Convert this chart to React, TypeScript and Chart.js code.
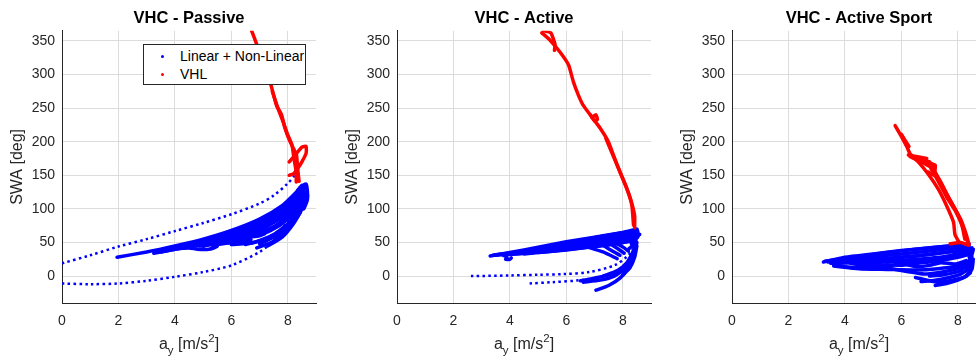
import React, { useEffect, useRef } from "react";
import { Chart, registerables } from "chart.js";

Chart.register(...registerables);

type Pt = [number, number];

// ---------- axes / labels ----------
const xTicks = [0, 2, 4, 6, 8];
const yTicks = [0, 50, 100, 150, 200, 250, 300, 350];
const xMin = 0;
const xMax = 9;
const yMin = -40;
const yMax = 365;
const titles = ["VHC - Passive", "VHC - Active", "VHC - Active Sport"];
const seriesNames = ["Linear + Non-Linear", "VHL"];
const yLabel = "SWA [deg]";

// ---------- VHC - Passive ----------
const passiveBlue1: Pt[] = [[1.95, 28], [3, 36], [4, 45], [5, 55], [6, 68], [7, 85], [7.8, 105], [8.3, 125], [8.5, 135]];
const passiveBlue2: Pt[] = [[3.25, 34], [4, 40], [5, 48], [6, 60], [7, 75], [7.8, 95], [8.4, 118], [8.6, 130]];
const passiveBlue3: Pt[] = [[3.5, 36], [4.5, 44], [5.5, 53], [6.5, 66], [7.5, 86], [8.2, 105], [8.65, 125]];
const passiveBlue4: Pt[] = [[3.8, 40], [4.5, 42], [4.8, 40], [5.2, 40], [5.5, 44], [5.2, 47], [4.9, 45], [5.5, 48], [6.0, 50], [6.4, 50], [6.7, 54], [6.4, 57], [6.1, 55], [6.6, 58], [7.0, 60], [7.2, 64], [6.9, 67], [6.8, 63], [7.3, 66], [7.8, 78], [8.3, 100], [8.6, 120]];
const passiveBlue5: Pt[] = [[4.2, 43], [5, 46], [6, 54], [7, 68], [7.8, 88], [8.4, 110]];
const passiveBlue6: Pt[] = [[6.0, 47], [6.8, 50], [7.5, 62], [8.0, 78], [8.4, 100]];
const passiveBlue7: Pt[] = [[6.9, 42], [7.5, 52], [8.0, 70], [8.3, 90], [8.5, 105]];
const passiveBlue8: Pt[] = [[7.3, 45], [7.8, 58], [8.2, 78], [8.5, 100], [8.7, 120]];
const passiveBlue9: Pt[] = [[8.3, 95], [8.5, 110], [8.4, 130], [8.65, 137], [8.7, 115], [8.55, 100], [8.35, 128]];
const passiveBlue10: Pt[] = [[3.6, 38], [4.5, 46], [5.5, 56], [6.5, 70], [7.5, 90], [8.2, 112], [8.6, 132]];
const passiveBlue11: Pt[] = [[4.0, 42], [5, 50], [6, 62], [7, 80], [7.8, 100], [8.4, 122]];
const passiveBlue12: Pt[] = [[4.5, 47], [5.5, 58], [6.5, 74], [7.5, 95], [8.3, 120], [8.6, 136]];
const passiveBlue13: Pt[] = [[5, 44], [6, 57], [7, 72], [8, 92], [8.5, 112]];
const passiveBlue14: Pt[] = [[5.5, 47], [6.3, 52], [7, 64], [7.6, 76], [8.2, 98]];
const passiveBlue15: Pt[] = [[6.5, 47], [7.2, 55], [7.8, 68], [8.3, 88], [8.6, 110]];
const passiveBlue16: Pt[] = [[7.0, 48], [7.6, 60], [8.1, 75], [8.45, 95]];
const passiveBlueDots1: Pt[] = [[0, 19], [1, 31], [2, 44], [3, 55], [4, 67], [5, 79], [6, 92], [7, 108], [7.5, 120], [8, 138], [8.25, 150]];
const passiveBlueDots2: Pt[] = [[0, -11], [1, -12], [2, -11], [3, -7], [4, -1], [5, 6], [6, 16], [7, 36], [7.5, 53], [8, 83], [8.3, 108], [8.5, 128]];
const passiveRed1: Pt[] = [[6.72, 365], [6.89, 346], [7.1, 320], [7.3, 298], [7.42, 282], [7.6, 254], [7.78, 240], [7.9, 220], [8.08, 200], [8.2, 190], [8.31, 180], [8.35, 160], [8.4, 141]];
const passiveRed2: Pt[] = [[7.45, 275], [7.65, 250], [7.85, 228], [8.0, 210], [8.15, 195], [8.22, 175], [8.3, 155], [8.3, 140]];
const passiveRed3: Pt[] = [[8.05, 170], [8.3, 182], [8.5, 192], [8.65, 193], [8.65, 183], [8.5, 170], [8.35, 160], [8.2, 152], [8.05, 150]];

// ---------- VHC - Active ----------
const activeBlue1: Pt[] = [[3.3, 30], [4, 35], [5, 43], [6, 51], [7, 58], [8, 65], [8.4, 69]];
const activeBlue2: Pt[] = [[3.5, 31], [4.5, 36], [5.5, 42], [6.5, 49], [7.5, 56], [8.3, 62], [8.5, 66]];
const activeBlue3: Pt[] = [[3.6, 32], [4.5, 34], [5.5, 39], [6.5, 45], [7.5, 52], [8.3, 58], [8.5, 62]];
const activeBlue4: Pt[] = [[4.0, 32], [5, 36], [6, 41], [6.7, 45], [7.5, 49], [8.2, 53], [8.5, 58]];
const activeBlue5: Pt[] = [[3.75, 31], [3.9, 28], [3.85, 25], [4.0, 25], [4.05, 27]];
const activeBlue6: Pt[] = [[6.7, 44], [7.3, 36], [7.8, 26]];
const activeBlue7: Pt[] = [[7.3, 46], [7.6, 38], [7.9, 31]];
const activeBlue8: Pt[] = [[7.6, 47], [7.85, 40], [8.05, 34]];
const activeBlue9: Pt[] = [[7.8, 48], [8.05, 42], [8.2, 37]];
const activeBlue10: Pt[] = [[8.2, 40], [8.45, 50], [8.5, 70], [8.55, 60], [8.3, 48], [8.4, 65], [8.6, 62]];
const activeBlue11: Pt[] = [[7.05, -21], [7.5, -14], [7.9, -3], [8.2, 12], [8.4, 32], [8.5, 50]];
const activeBlue12: Pt[] = [[6.6, -9], [7.2, -6], [7.7, 0], [8.1, 12], [8.35, 30], [8.45, 45]];
const activeBlue13: Pt[] = [[6.5, -7], [7.0, -3], [7.6, 3], [8.0, 12], [8.3, 28], [8.42, 45]];
const activeBlue14: Pt[] = [[8.0, 2], [8.25, 12], [8.42, 28], [8.5, 45]];
const activeBlue15: Pt[] = [[7.3, 0], [7.8, 8], [8.15, 20], [8.35, 35]];
const activeBlue16: Pt[] = [[3.4, 31], [4.5, 37], [5.5, 45], [6.5, 53], [7.5, 61], [8.4, 67]];
const activeBlue17: Pt[] = [[3.8, 32], [5, 39], [6, 47], [7, 54], [8, 61], [8.5, 64]];
const activeBlue18: Pt[] = [[4.5, 33], [5.5, 37], [6.5, 42], [7.5, 47], [8.3, 52]];
const activeBlue19: Pt[] = [[5, 35], [6, 39], [7, 44], [7.8, 48], [8.4, 54]];
const activeBlueDots1: Pt[] = [[2.62, 0], [4, 1], [5, 2], [5.9, 3], [6.8, 6], [7.7, 16], [8.15, 29], [8.35, 40]];
const activeBlueDots2: Pt[] = [[4.7, -11], [5.5, -9], [6.5, -6], [7.4, 1], [8.0, 14], [8.3, 30]];
const activeRed1: Pt[] = [[5.13, 362], [5.4, 352], [5.78, 333], [6.08, 314], [6.25, 289], [6.43, 269], [6.6, 254], [6.9, 237], [7.2, 220], [7.49, 200], [7.67, 180], [7.9, 155], [8.14, 131], [8.32, 106], [8.38, 76]];
const activeRed2: Pt[] = [[5.2, 365], [5.45, 362], [5.6, 345], [5.58, 336]];
const activeRed3: Pt[] = [[7.4, 205], [7.6, 185], [7.75, 170], [8.0, 145], [8.25, 118], [8.42, 90], [8.42, 72]];
const activeRed4: Pt[] = [[6.85, 240], [7.0, 231], [7.1, 233], [7.05, 240], [6.9, 236]];

// ---------- VHC - Active Sport ----------
const sportBlue1: Pt[] = [[3.24, 21], [4, 28], [5, 33], [6, 38], [7, 42], [8, 46], [8.4, 48]];
const sportBlue2: Pt[] = [[3.4, 21], [4.5, 27], [5.5, 31], [6.5, 35], [7.5, 40], [8.4, 44]];
const sportBlue3: Pt[] = [[3.6, 20], [4.5, 23], [5.5, 26], [6.5, 30], [7.5, 35], [8.45, 40]];
const sportBlue4: Pt[] = [[3.7, 17], [4, 14], [4.5, 13], [5, 15], [5.5, 17], [6, 16], [6.5, 19], [7, 21], [7.5, 24], [8, 28], [8.45, 33]];
const sportBlue5: Pt[] = [[4.2, 19], [4.8, 16], [5.2, 20], [5.8, 22], [6.2, 17], [6.6, 14], [7.0, 16], [7.4, 20], [7.9, 18], [8.3, 23]];
const sportBlue6: Pt[] = [[5.5, 12], [6.2, 7], [6.8, 3], [7.3, 5], [7.8, 9], [8.2, 14], [8.45, 25]];
const sportBlue7: Pt[] = [[6.7, -8], [7.2, -6], [7.7, -2], [8.1, 3], [8.4, 12], [8.5, 28]];
const sportBlue8: Pt[] = [[7.2, -14], [7.6, -11], [8.0, -6], [8.3, 0], [8.5, 10], [8.55, 25]];
const sportBlue9: Pt[] = [[4.0, 22], [5, 25], [6, 28], [7, 32], [8, 38], [8.5, 42]];
const sportBlue10: Pt[] = [[8.3, 0], [8.5, 15], [8.4, 30], [8.55, 40], [8.35, 10]];
const sportBlue11: Pt[] = [[3.3, 22], [4.5, 29], [5.5, 35], [6.5, 40], [7.5, 44], [8.4, 47]];
const sportBlue12: Pt[] = [[3.5, 19], [4.5, 20], [5.5, 22], [6.5, 25], [7.5, 29], [8.3, 36]];
const sportBlue13: Pt[] = [[3.6, 15], [4.5, 11], [5.5, 10], [6.5, 9], [7.3, 11], [8, 15], [8.4, 20]];
const sportBlue14: Pt[] = [[4.5, 17], [5, 14], [5.6, 15], [6, 20], [6.5, 23], [7.2, 25], [8, 32], [8.45, 38]];
const sportBlue15: Pt[] = [[7, 0], [7.5, 2], [8.1, 8], [8.4, 18]];
const sportBlue16: Pt[] = [[6.5, -2], [7.3, -9], [7.8, -6], [8.2, -2], [8.45, 5]];
const sportRed1: Pt[] = [[5.78, 224], [6.0, 208], [6.2, 192], [6.31, 182], [6.6, 170], [6.95, 152], [7.3, 130], [7.6, 105], [7.85, 80], [7.9, 62], [8.05, 50]];
const sportRed2: Pt[] = [[6.3, 178], [6.8, 168], [7.1, 160], [7.4, 140], [7.7, 115], [8.0, 92], [8.2, 70], [8.35, 50]];
const sportRed3: Pt[] = [[6.6, 174], [7.0, 170], [7.25, 150], [7.5, 130], [7.8, 108], [8.1, 85], [8.3, 62], [8.4, 47]];
const sportRed4: Pt[] = [[6.25, 180], [6.9, 175]];
const sportRed5: Pt[] = [[6.0, 211], [6.27, 193]];
const sportRed6: Pt[] = [[7.73, 48], [8.1, 50], [8.38, 46]];
const sportRed7: Pt[] = [[6.85, 170], [7.2, 165], [7.15, 150], [6.95, 155]];
const sportRed8: Pt[] = [[7.05, 160], [7.35, 138], [7.6, 118], [7.9, 98], [8.15, 75], [8.25, 55]];

const BLUE = "#0000ff";
const RED = "#ff0000";
const FONT = "'Liberation Sans', Arial, Helvetica, sans-serif";
const TEXT = "#262626";

interface PanelDef {
  title: string;
  solidBlue: Pt[][];
  dottedBlue: Pt[][];
  red: Pt[][];
  legend: boolean;
}

const panels: PanelDef[] = [
  {
    title: titles[0],
    solidBlue: [passiveBlue1, passiveBlue2, passiveBlue3, passiveBlue4, passiveBlue5, passiveBlue6, passiveBlue7, passiveBlue8, passiveBlue9, passiveBlue10, passiveBlue11, passiveBlue12, passiveBlue13, passiveBlue14, passiveBlue15, passiveBlue16],
    dottedBlue: [passiveBlueDots1, passiveBlueDots2],
    red: [passiveRed1, passiveRed2, passiveRed3],
    legend: true,
  },
  {
    title: titles[1],
    solidBlue: [activeBlue1, activeBlue2, activeBlue3, activeBlue4, activeBlue5, activeBlue6, activeBlue7, activeBlue8, activeBlue9, activeBlue10, activeBlue11, activeBlue12, activeBlue13, activeBlue14, activeBlue15, activeBlue16, activeBlue17, activeBlue18, activeBlue19],
    dottedBlue: [activeBlueDots1, activeBlueDots2],
    red: [activeRed1, activeRed2, activeRed3, activeRed4],
    legend: false,
  },
  {
    title: titles[2],
    solidBlue: [sportBlue1, sportBlue2, sportBlue3, sportBlue4, sportBlue5, sportBlue6, sportBlue7, sportBlue8, sportBlue9, sportBlue10, sportBlue11, sportBlue12, sportBlue13, sportBlue14, sportBlue15, sportBlue16],
    dottedBlue: [],
    red: [sportRed1, sportRed2, sportRed3, sportRed4, sportRed5, sportRed6, sportRed7, sportRed8],
    legend: false,
  },
];

const PANEL_W = 335;
const PANEL_H = 362;
const AREA_LEFT = 62;
const AREA_RIGHT_PAD = 19;
const XAXIS_H = 59;

function Panel({ def, left }: { def: PanelDef; left: number }) {
  const ref = useRef<HTMLCanvasElement>(null);
  useEffect(() => {
    if (!ref.current) return;
    const toXY = (t: Pt[]) => t.map(([x, y]) => ({ x, y }));
    const datasets: any[] = [
      ...def.red.map((t) => ({
        label: seriesNames[1],
        data: toXY(t),
        showLine: true,
        borderColor: RED,
        backgroundColor: RED,
        borderWidth: 3.5,
        borderJoinStyle: "round",
        borderCapStyle: "round",
        pointRadius: 0,
        tension: 0.15,
      })),
      ...def.solidBlue.map((t) => ({
        label: seriesNames[0],
        data: toXY(t),
        showLine: true,
        borderColor: BLUE,
        backgroundColor: BLUE,
        borderWidth: 3.5,
        borderJoinStyle: "round",
        borderCapStyle: "round",
        pointRadius: 0,
        tension: 0.2,
      })),
      ...def.dottedBlue.map((t) => ({
        label: seriesNames[0],
        data: toXY(t),
        showLine: true,
        borderColor: BLUE,
        backgroundColor: BLUE,
        borderWidth: 2.5,
        borderDash: [2.5, 3.3],
        borderCapStyle: "butt",
        pointRadius: 0,
        tension: 0.3,
      })),
    ];
    const chart = new Chart(ref.current, {
      type: "scatter",
      data: { datasets },
      options: {
        animation: false,
        responsive: false,
        events: [],
        layout: { padding: { left: 0, right: AREA_RIGHT_PAD, top: 0, bottom: 0 } },
        plugins: {
          legend: { display: false },
          tooltip: { enabled: false },
          title: {
            display: true,
            text: def.title,
            fullSize: false,
            color: "#000000",
            font: { family: FONT, size: 16.5, weight: "bold" },
            padding: { top: 8.4, bottom: 2.6 },
          },
        },
        scales: {
          x: {
            type: "linear",
            min: xMin,
            max: xMax,
            afterBuildTicks: (s: any) => {
              s.ticks = xTicks.map((v) => ({ value: v }));
            },
            afterFit: (s: any) => {
              s.height = XAXIS_H;
            },
            grid: { color: "#dcdcdc", lineWidth: 1, drawTicks: false },
            border: { display: true, color: TEXT, width: 1 },
            ticks: { color: TEXT, font: { family: FONT, size: 14 }, padding: 10, maxRotation: 0 },
          },
          y: {
            type: "linear",
            min: yMin,
            max: yMax,
            afterBuildTicks: (s: any) => {
              s.ticks = yTicks.map((v) => ({ value: v }));
            },
            afterFit: (s: any) => {
              s.width = AREA_LEFT;
            },
            grid: { color: "#dcdcdc", lineWidth: 1, drawTicks: false },
            border: { display: true, color: TEXT, width: 1 },
            ticks: { color: TEXT, font: { family: FONT, size: 14 }, padding: 7 },
            title: {
              display: true,
              text: yLabel,
              color: TEXT,
              font: { family: FONT, size: 16 },
              padding: { top: 8, bottom: 0 },
            },
          },
        },
      } as any,
    });
    return () => chart.destroy();
  }, [def]);

  const areaCenter = AREA_LEFT + (PANEL_W - AREA_RIGHT_PAD - AREA_LEFT) / 2;
  return (
    <div style={{ position: "absolute", left, top: 0, width: PANEL_W, height: PANEL_H }}>
      <canvas ref={ref} width={PANEL_W} height={PANEL_H} style={{ display: "block" }} />
      <div
        style={{
          position: "absolute",
          left: areaCenter - 80,
          width: 160,
          top: 335.5,
          textAlign: "center",
          fontFamily: FONT,
          fontSize: 16,
          lineHeight: "16px",
          color: TEXT,
          whiteSpace: "nowrap",
        }}
      >
        a<span style={{ fontSize: 11.5, position: "relative", top: 5 }}>y</span> [m/s
        <span style={{ fontSize: 11.5, position: "relative", top: -7 }}>2</span>]
      </div>
      {def.legend && (
        <div
          style={{
            position: "absolute",
            left: 143,
            top: 44,
            width: 163,
            height: 41,
            boxSizing: "border-box",
            border: `1px solid ${TEXT}`,
            background: "#ffffff",
            fontFamily: FONT,
            fontSize: 14,
            color: "#000000",
            whiteSpace: "nowrap",
            overflow: "hidden",
          }}
        >
          {[BLUE, RED].map((c, i) => (
            <div key={i} style={{ position: "absolute", left: 0, top: 3 + i * 17.6, height: 17, lineHeight: "17px" }}>
              <span
                style={{
                  position: "absolute",
                  left: 17,
                  top: 7,
                  width: 3,
                  height: 3,
                  borderRadius: 2,
                  background: c,
                }}
              />
              <span style={{ position: "absolute", left: 36 }}>{seriesNames[i]}</span>
            </div>
          ))}
        </div>
      )}
    </div>
  );
}

export default function App() {
  return (
    <div
      style={{
        position: "fixed",
        left: 0,
        top: 0,
        width: 976,
        height: 362,
        overflow: "hidden",
        background: "#ffffff",
      }}
    >
      {panels.map((p, i) => (
        <Panel key={i} def={p} left={i * 335} />
      ))}
    </div>
  );
}
